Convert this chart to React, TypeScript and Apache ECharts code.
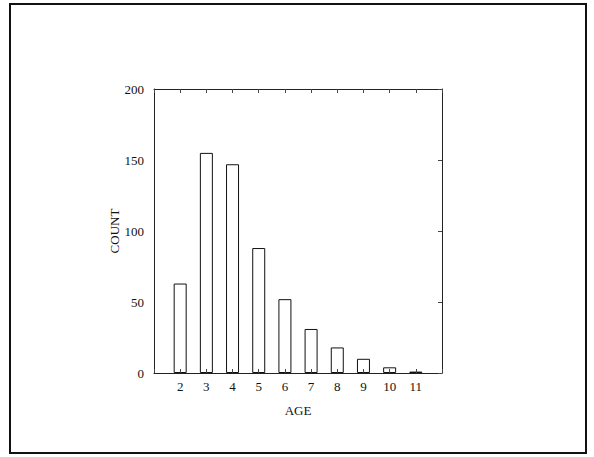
import React, { useEffect, useRef } from "react";
import * as echarts from "echarts";

const ages = [2, 3, 4, 5, 6, 7, 8, 9, 10, 11];
const counts = [63, 155, 147, 88, 52, 31, 18, 10, 4, 1];
const yTicks = [0, 50, 100, 150, 200];

const FONT = "Liberation Serif";

export default function App() {
  const ref = useRef<HTMLDivElement>(null);
  useEffect(() => {
    const chart = echarts.init(ref.current!, null, { renderer: "svg" });
    const axisLine = { show: true, onZero: false, lineStyle: { color: "#222", width: 1 } };
    const tick = { show: true, inside: true, length: 4, lineStyle: { color: "#444" } };
    chart.setOption({
      animation: false,
      backgroundColor: "#fff",
      textStyle: { fontFamily: FONT },
      grid: { left: 154, top: 89, width: 288, height: 284 },
      graphic: [
        {
          type: "rect",
          shape: { x: 10, y: 4, width: 576, height: 449 },
          style: { fill: "none", stroke: "#111", lineWidth: 2 },
        },
      ],
      xAxis: [
        {
          type: "value",
          position: "bottom",
          min: 1,
          max: 12,
          interval: 1,
          z: 5,
          name: "AGE",
          nameLocation: "middle",
          nameGap: 31,
          nameTextStyle: { fontFamily: FONT, fontSize: 13, color: "#111" },
          axisLine,
          axisTick: tick,
          axisLabel: {
            fontFamily: FONT,
            fontSize: 13,
            color: "#111",
            margin: 7,
            formatter: (v: number) => (ages.includes(v) ? String(v) : ""),
          },
          splitLine: { show: false },
        },
        {
          type: "value",
          position: "top",
          min: 1,
          max: 12,
          interval: 1,
          z: 5,
          axisLine,
          axisTick: tick,
          axisLabel: { show: false },
          splitLine: { show: false },
        },
      ],
      yAxis: [
        {
          type: "value",
          position: "left",
          min: 0,
          max: 200,
          interval: 50,
          z: 5,
          name: "COUNT",
          nameLocation: "middle",
          nameRotate: 90,
          nameGap: 29,
          nameTextStyle: { fontFamily: FONT, fontSize: 13, color: "#111" },
          axisLine,
          axisTick: { show: false },
          axisLabel: {
            fontFamily: FONT,
            fontSize: 13,
            color: "#111",
            margin: 10,
            formatter: (v: number) => (yTicks.includes(v) ? String(v) : ""),
          },
          splitLine: { show: false },
        },
        {
          type: "value",
          position: "right",
          min: 0,
          max: 200,
          interval: 50,
          z: 5,
          axisLine,
          axisTick: tick,
          axisLabel: { show: false },
          splitLine: { show: false },
        },
      ],
      series: [
        {
          type: "bar",
          xAxisIndex: 0,
          yAxisIndex: 0,
          barWidth: 13,
          data: ages.map((a, i) => [a, counts[i]]),
          itemStyle: { color: "#fff", borderColor: "#111", borderWidth: 1 },
          z: 1,
        },
      ],
    });
    return () => chart.dispose();
  }, []);
  return (
    <div
      ref={ref}
      style={{ position: "fixed", left: 0, top: 0, width: 594, height: 457 }}
    />
  );
}
